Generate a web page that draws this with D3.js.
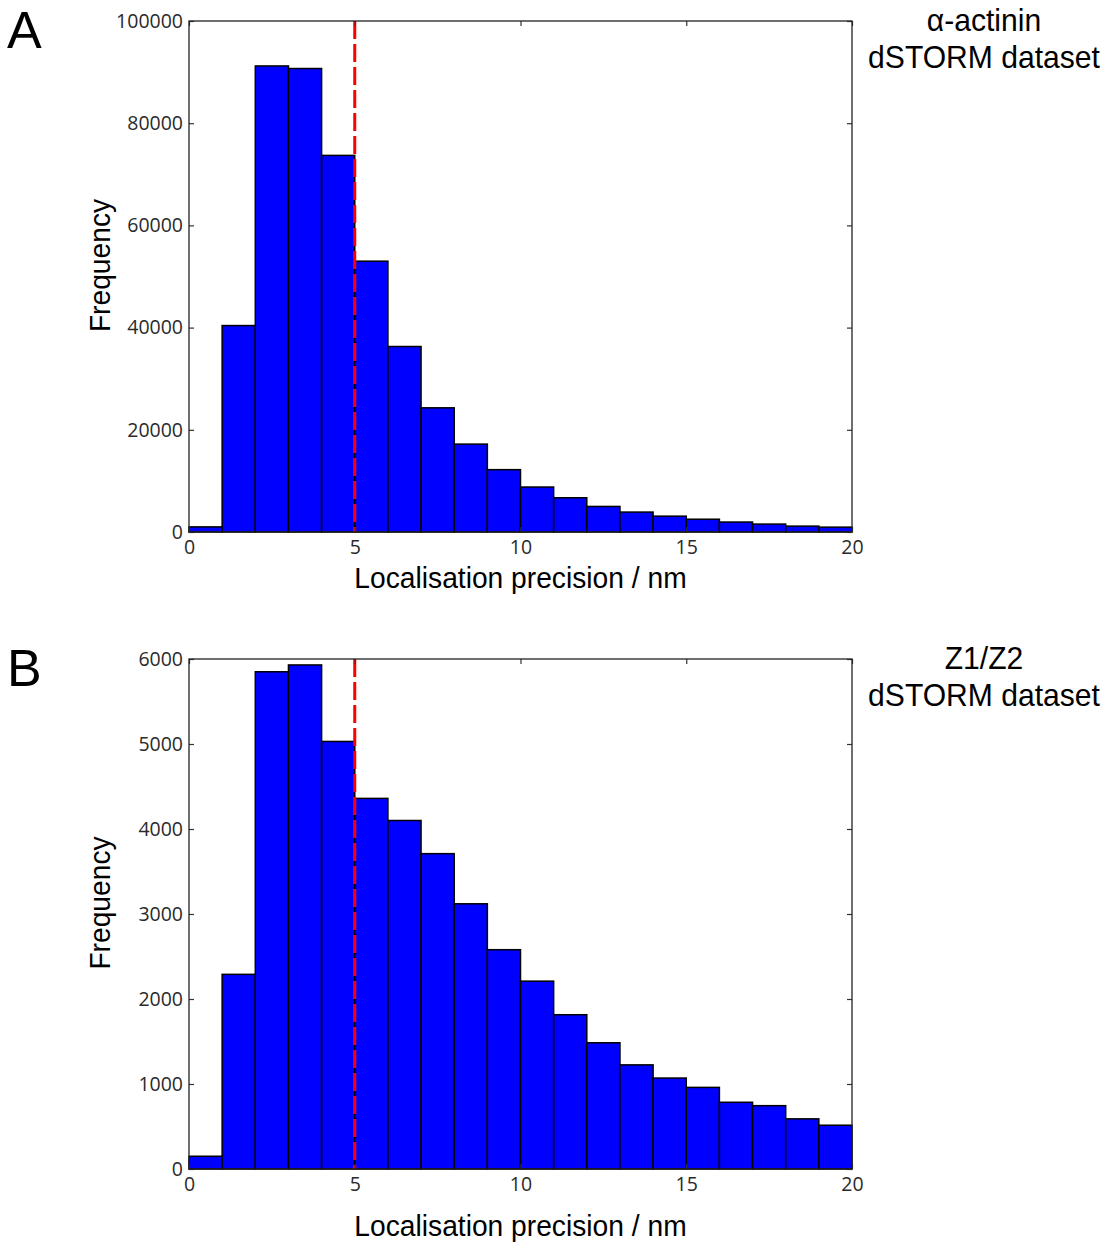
<!DOCTYPE html>
<html>
<head>
<meta charset="utf-8">
<script src="https://cdn.jsdelivr.net/npm/d3@7"></script>
<style>
  html, body { margin: 0; padding: 0; background: #fff; }
  svg { display: block; }
  .tick text { font-family: "Open Sans", sans-serif; font-size: 19.5px; fill: #2a2a2a; }
</style>
</head>
<body>
<script>
// Histogram bin left edges (nm), each bin is 1 nm wide
const binStarts = [0, 1, 2, 3, 4, 5, 6, 7, 8, 9, 10, 11, 12, 13, 14, 15, 16, 17, 18, 19];
const binWidth = 1;

// Localisation counts per bin
const actininCounts = [1000, 40400, 91200, 90700, 73700, 53000, 36300, 24300, 17200, 12200,
                       8800, 6700, 5000, 3900, 3100, 2500, 1950, 1550, 1150, 950];
const z1z2Counts = [150, 2290, 5850, 5930, 5030, 4360, 4100, 3710, 3120, 2580,
                    2210, 1815, 1485, 1225, 1070, 960, 785, 745, 590, 515];

// Axis ticks
const xTicks = [0, 5, 10, 15, 20];
const actininYTicks = [0, 20000, 40000, 60000, 80000, 100000];
const z1z2YTicks = [0, 1000, 2000, 3000, 4000, 5000, 6000];

// Precision threshold marked by the dashed line
const threshold = 5;

const panelLetters = ["A", "B"];
const titles = [["α-actinin", "dSTORM dataset"], ["Z1/Z2", "dSTORM dataset"]];
const xLabel = "Localisation precision / nm";
const yLabel = "Frequency";

const W = 1115, H = 1243;
const svg = d3.select("body").append("svg").attr("width", W).attr("height", H);

const panels = [
  { counts: actininCounts, yMax: 100000, yTicks: actininYTicks, top: 21, bottom: 532, xLabelGap: 56 },
  { counts: z1z2Counts, yMax: 6000, yTicks: z1z2YTicks, top: 659, bottom: 1169, xLabelGap: 67 }
];
const left = 189, right = 852;

panels.forEach((p, i) => {
  const g = svg.append("g");
  const x = d3.scaleLinear().domain([0, 20]).range([left, right]);
  const y = d3.scaleLinear().domain([0, p.yMax]).range([p.bottom, p.top]);

  // bars
  g.selectAll("rect.bar")
    .data(binStarts.map((s, k) => ({ s, v: p.counts[k] })))
    .join("rect")
    .attr("class", "bar")
    .attr("x", d => x(d.s))
    .attr("width", d => x(d.s + binWidth) - x(d.s))
    .attr("y", d => y(d.v))
    .attr("height", d => y(0) - y(d.v))
    .attr("fill", "#0000ff")
    .attr("stroke", "#000")
    .attr("stroke-width", 1.5);

  // dashed threshold line
  g.append("line")
    .attr("x1", x(threshold)).attr("x2", x(threshold))
    .attr("y1", p.top).attr("y2", p.bottom)
    .attr("stroke", "#ff0000")
    .attr("stroke-width", 3)
    .attr("stroke-dasharray", "18,5");

  // axes with inward ticks on all four sides
  const tickStyle = sel => {
    sel.select(".domain").remove();
    sel.selectAll(".tick line").attr("stroke", "#333").attr("stroke-width", 1.2);
  };
  g.append("g").attr("transform", `translate(0,${p.bottom})`)
    .call(d3.axisBottom(x).tickValues(xTicks).tickSize(-5).tickPadding(8).tickFormat(d3.format("d")))
    .call(tickStyle);
  g.append("g").attr("transform", `translate(0,${p.top})`)
    .call(d3.axisTop(x).tickValues(xTicks).tickSize(-5).tickFormat(""))
    .call(tickStyle);
  g.append("g").attr("transform", `translate(${left},0)`)
    .call(d3.axisLeft(y).tickValues(p.yTicks).tickSize(-5).tickPadding(6).tickFormat(d3.format("d")))
    .call(tickStyle);
  g.append("g").attr("transform", `translate(${right},0)`)
    .call(d3.axisRight(y).tickValues(p.yTicks).tickSize(-5).tickFormat(""))
    .call(tickStyle);

  // frame
  g.append("rect")
    .attr("x", left).attr("y", p.top)
    .attr("width", right - left).attr("height", p.bottom - p.top)
    .attr("fill", "none").attr("stroke", "#222").attr("stroke-width", 1.3);

  const off = p.top - 21;

  // axis labels
  g.append("text")
    .attr("transform", `translate(${(left + right) / 2},${p.bottom + p.xLabelGap}) scale(0.94,1)`)
    .attr("text-anchor", "middle")
    .attr("font-family", "'Liberation Sans', Arial, sans-serif")
    .attr("font-size", 30)
    .attr("fill", "#000")
    .text(xLabel);
  g.append("text")
    .attr("transform", `translate(110,${(p.top + p.bottom) / 2 - 11}) rotate(-90) scale(0.94,1)`)
    .attr("text-anchor", "middle")
    .attr("font-family", "'Liberation Sans', Arial, sans-serif")
    .attr("font-size", 30)
    .attr("fill", "#000")
    .text(yLabel);

  // panel letter
  svg.append("text")
    .attr("x", 7).attr("y", 48 + off)
    .attr("font-family", "'Liberation Sans', Arial, sans-serif")
    .attr("font-size", 52)
    .attr("fill", "#000")
    .text(panelLetters[i]);

  // dataset title
  titles[i].forEach((t, k) => {
    svg.append("text")
      .attr("transform", `translate(984,${31 + k * 37 + off}) scale(0.94,1)`)
      .attr("text-anchor", "middle")
      .attr("font-family", "'Liberation Sans', Arial, sans-serif")
      .attr("font-size", 32)
      .attr("fill", "#000")
      .text(t);
  });
});
</script>
</body>
</html>
